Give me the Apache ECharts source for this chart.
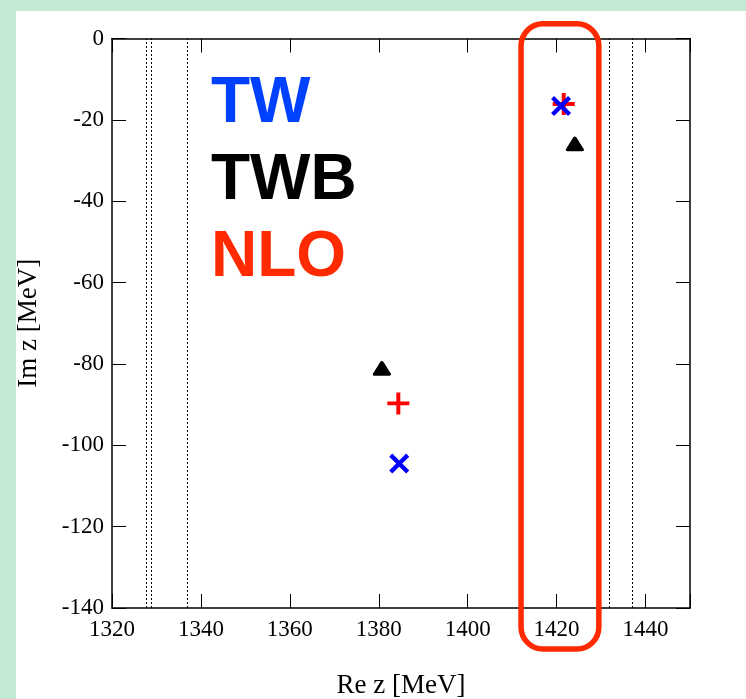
<!DOCTYPE html>
<html>
<head>
<meta charset="utf-8">
<script src="https://cdn.jsdelivr.net/npm/echarts@6/dist/echarts.min.js"></script>
<style>
html,body{margin:0;padding:0;width:746px;height:699px;overflow:hidden;background:#c4e8d4;}
#panel{position:absolute;left:16px;top:11px;right:0;bottom:0;background:#fff;}
#chart{position:absolute;left:0;top:0;width:746px;height:699px;}
</style>
</head>
<body>
<div id="panel"></div>
<div id="chart"></div>
<script>
// pole positions (Re z, Im z) in MeV
const twRe = [1421.0, 1384.6];
const twIm = [-16.6, -104.5];
const twbRe = [1424.1, 1380.7];
const twbIm = [-25.9, -81.1];
const nloRe = [1421.6, 1384.4];
const nloIm = [-16.1, -89.7];
// thresholds (dotted lines)
const thresholds = [1327.6, 1328.9, 1337.0, 1431.9, 1437.1];
// highlight box around the higher poles
const boxRe = [1412.0, 1429.5];
const boxIm = [3.6, -150.1];
const labels = ['TW', 'TWB', 'NLO'];
const labelColors = ['#0040ff', '#000000', '#ff2a00'];

const serif = 'Liberation Serif';
const sans = '"Liberation Sans",Arial,sans-serif';
const pts = (xs, ys) => xs.map((x, i) => [x, ys[i]]);
const plus = 'path://M8.2,0H11.8V8.2H20V11.8H11.8V20H8.2V11.8H0V8.2H8.2Z';
const tickFont = {s:{fontFamily:serif, fontSize:23, color:'#000'}};

function xAx(pos, show) {
  return {type:'value', position:pos, min:1320, max:1450, interval:20,
    name: show ? 'Re z [MeV]' : '', nameLocation:'middle', nameGap:64,
    nameTextStyle:{color:'#000', fontFamily:serif, fontSize:27},
    axisLine:{onZero:false, lineStyle:{color:'#000', width:1.5}},
    axisTick:{inside:true, length:14, lineStyle:{color:'#000', width:1}},
    axisLabel:{show:show, color:'#000', fontFamily:serif, fontSize:23, margin:10, rich:tickFont,
      formatter:v => v % 20 === 0 ? '{s|' + v + '}' : ''},
    splitLine:{show:false}};
}
function yAx(pos, show) {
  return {type:'value', position:pos, min:-140, max:0, interval:20,
    name: show ? 'Im z [MeV]' : '', nameLocation:'middle', nameGap:70,
    nameTextStyle:{color:'#000', fontFamily:serif, fontSize:27},
    axisLine:{onZero:false, lineStyle:{color:'#000', width:1.5}},
    axisTick:{inside:true, length:14, lineStyle:{color:'#000', width:1}},
    axisLabel:{show:show, color:'#000', fontFamily:serif, fontSize:23, margin:8, rich:tickFont,
      formatter:v => '{s|' + v + '}'},
    splitLine:{show:false}};
}

const chart = echarts.init(document.getElementById('chart'));
chart.setOption({
  animation:false,
  backgroundColor:'transparent',
  textStyle:{fontFamily:serif},
  grid:{left:112, top:38.5, right:56, bottom:91, outerBoundsMode:'none'},
  xAxis:[xAx('bottom', true), xAx('top', false)],
  yAxis:[yAx('left', true), yAx('right', false)],
  series:[
    {name:'TWB', type:'scatter', data:pts(twbRe, twbIm), symbol:'triangle', symbolSize:[15, 12],
      itemStyle:{color:'#000', borderColor:'#000', borderWidth:3, borderJoin:'round', opacity:1},
      markLine:{silent:true, symbol:['none','none'], label:{show:false},
        lineStyle:{type:[2,2], color:'#000', width:1},
        data:thresholds.map(v => ({xAxis:v}))}},
    {name:'NLO', type:'scatter', data:pts(nloRe, nloIm), symbol:plus, symbolSize:22,
      itemStyle:{color:'#ff0000', opacity:1}},
    {name:'TW', type:'scatter', data:pts(twRe, twIm), symbol:plus, symbolSize:24, symbolRotate:45,
      itemStyle:{color:'#0000ff', opacity:1}}
  ]
});

const p0 = chart.convertToPixel({xAxisIndex:0, yAxisIndex:0}, [boxRe[0], boxIm[0]]);
const p1 = chart.convertToPixel({xAxisIndex:0, yAxisIndex:0}, [boxRe[1], boxIm[1]]);
chart.setOption({
  graphic:[
    {type:'rect', shape:{x:p0[0], y:p0[1], width:p1[0]-p0[0], height:p1[1]-p0[1], r:22},
      style:{fill:'none', stroke:'#ff2a00', lineWidth:5.5}, z:100},
    ...labels.map((t, i) => ({type:'text', x:211, y:104 + i * 77,
      style:{text:t, fill:labelColors[i], font:'bold 64px ' + sans, verticalAlign:'middle'}, z:100}))
  ]
});
</script>
</body>
</html>
